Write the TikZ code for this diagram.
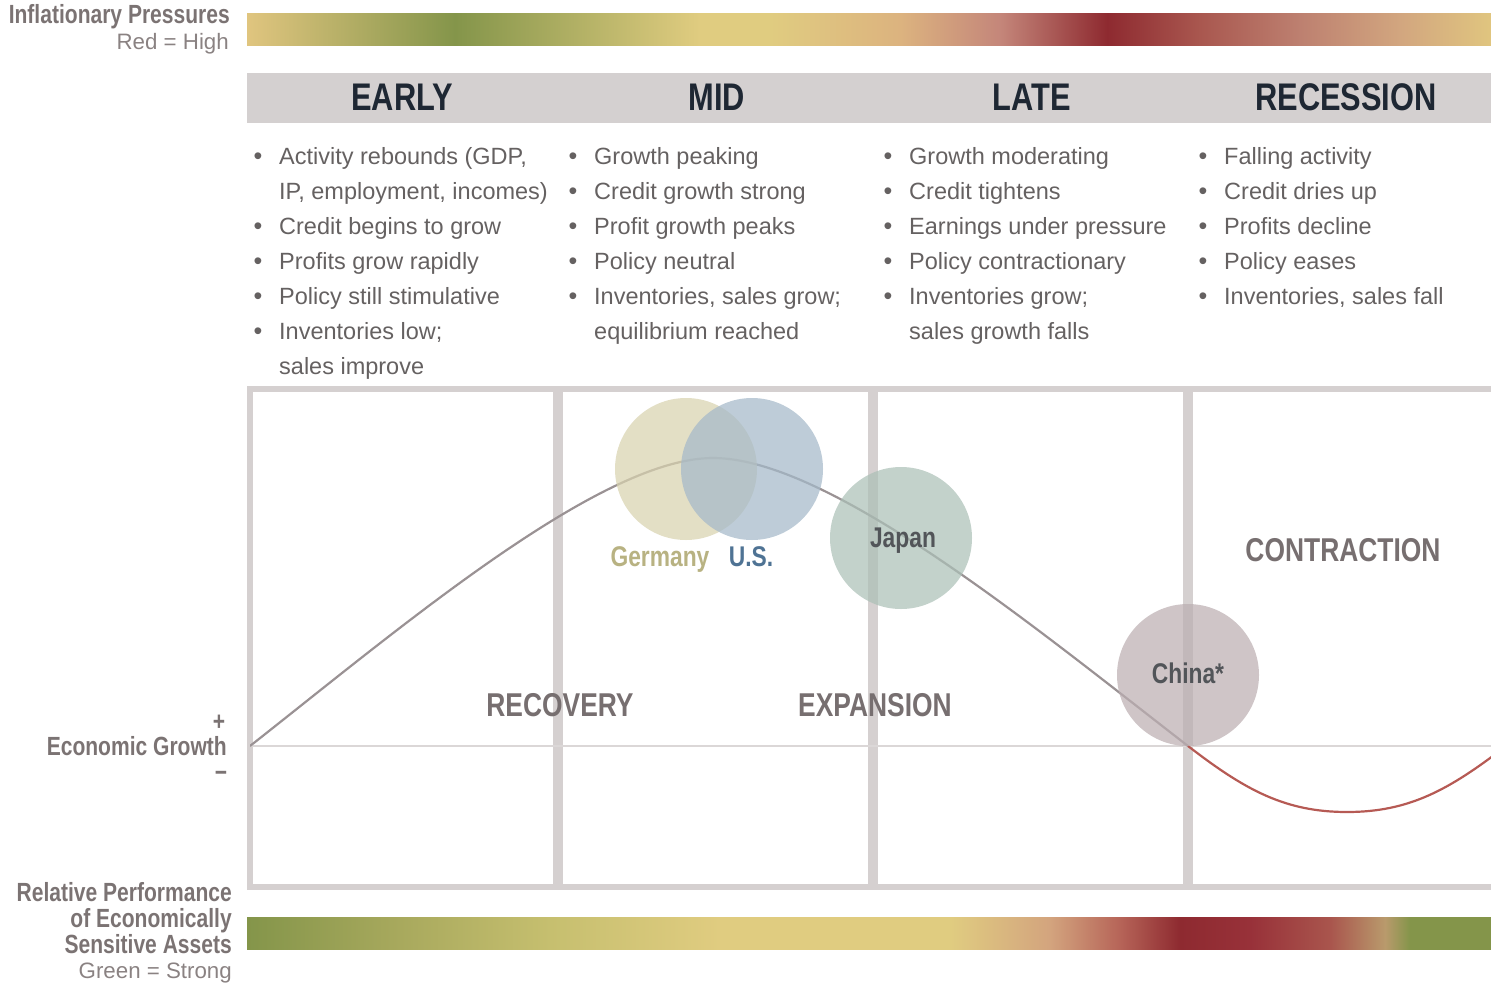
\documentclass[tikz,border=0pt]{standalone}
\usepackage{fontspec}
\setmainfont{Liberation Sans}
\newfontfamily\condsf[FakeStretch=0.8]{Liberation Sans}

% palette
\definecolor{bodygray}{HTML}{656161}
\definecolor{headink}{HTML}{1E2733}
\definecolor{hdrfill}{HTML}{D4D0D0}
\definecolor{framegray}{HTML}{D5D0D0}
\definecolor{zerogray}{HTML}{DBD7D7}
\definecolor{curvegray}{HTML}{9A9294}
\definecolor{curvered}{HTML}{B65A54}
\definecolor{phasegray}{HTML}{776F70}
\definecolor{sidegray}{HTML}{7B7373}
\definecolor{sidelight}{HTML}{8A8282}
\definecolor{germanyink}{HTML}{B8B282}
\definecolor{usink}{HTML}{4F7394}
\definecolor{bubbleink}{HTML}{525559}
\definecolor{germanyfill}{HTML}{D8D2AF}
\definecolor{usfill}{HTML}{A5B9C9}
\definecolor{japanfill}{HTML}{ACC0B7}
\definecolor{chinafill}{HTML}{BCAFB2}

% gradient colours
\definecolor{gTan}{HTML}{E0C57F}
\definecolor{gGreen}{HTML}{84954A}
\definecolor{gOlive}{HTML}{A8A95D}
\definecolor{gYellowGreen}{HTML}{C6BF6F}
\definecolor{gYellow}{HTML}{E0CC80}
\definecolor{gSand}{HTML}{DCB37F}
\definecolor{gRose}{HTML}{C4867A}
\definecolor{gRed}{HTML}{8E2A30}
\definecolor{gBrick}{HTML}{A9574F}
\definecolor{gSalmon}{HTML}{BD8070}
\definecolor{gPeach}{HTML}{D2A67F}
\definecolor{gRoseTan}{HTML}{D3A47E}
\definecolor{gRust}{HTML}{B66458}
\definecolor{gWine}{HTML}{983139}
\definecolor{gBrown}{HTML}{A9554D}
\definecolor{gKhaki}{HTML}{B99A6C}

% inflation bar: tan - green - yellow - red - tan
\pgfdeclarehorizontalshading{inflationbar}{100bp}{
  color(0bp)=(gTan); color(25bp)=(gTan); color(33.36bp)=(gGreen);
  color(43.21bp)=(gYellow); color(46.02bp)=(gYellow); color(51.25bp)=(gSand);
  color(55.27bp)=(gRose); color(59.57bp)=(gRed); color(63.30bp)=(gBrick);
  color(67.32bp)=(gSalmon); color(71.34bp)=(gPeach); color(75bp)=(gTan);
  color(100bp)=(gTan)}

% asset performance bar: green - yellow - red - green
\pgfdeclarehorizontalshading{assetbar}{100bp}{
  color(0bp)=(gGreen); color(25bp)=(gGreen); color(31.15bp)=(gOlive);
  color(37.18bp)=(gYellowGreen); color(44.01bp)=(gYellow); color(53.26bp)=(gYellow);
  color(57.27bp)=(gRoseTan); color(60.09bp)=(gRust); color(62.50bp)=(gRed);
  color(65.31bp)=(gWine); color(68.53bp)=(gBrown); color(70.74bp)=(gKhaki);
  color(71.74bp)=(gGreen); color(75bp)=(gGreen); color(100bp)=(gGreen)}

\tikzset{
  bodytext/.style={anchor=base west, inner sep=0pt, text=bodygray,
    font=\fontsize{23.5}{28}\selectfont},
  bulletdot/.style={anchor=base, inner sep=0pt, text=bodygray,
    font=\fontsize{25}{28}\selectfont},
  phasehead/.style={anchor=base, inner sep=0pt, text=headink,
    font=\condsf\bfseries\fontsize{38.5}{40}\selectfont},
  phaselabel/.style={anchor=base, inner sep=0pt, text=phasegray,
    font=\condsf\bfseries\fontsize{33}{36}\selectfont},
  sidebold/.style={anchor=base east, inner sep=0pt, text=sidegray,
    font=\condsf\bfseries\fontsize{26.3}{28}\selectfont},
  sidereg/.style={anchor=base east, inner sep=0pt, text=sidelight,
    font=\fontsize{22.3}{26}\selectfont},
  bubble/.style={circle, minimum size=142pt, inner sep=0pt, fill opacity=0.72},
  bubbletext/.style={anchor=base, inner sep=0pt,
    font=\condsf\bfseries\fontsize{28.5}{30}\selectfont},
  framerule/.style={draw=framegray, line width=6pt},
  divider/.style={draw=framegray, line width=10pt},
}

% one bulleted column: #1 name prefix, #2 x of bullets, #3 list of flag/text
\newcommand\phasecolumn[3]{%
  \foreach [count=\i] \mk/\txt in {#3} {
    \node[bodytext] (#1-\i) at ({#2+21}, {164+35*(\i-1)}) {\txt};
    \ifnum\mk=1
      \node[bulletdot] (#1-dot-\i) at (#2, {164+35*(\i-1)}) {•};
    \fi
  }%
}

\begin{document}
\begin{tikzpicture}[x=1pt, y=-1pt]
\useasboundingbox (0,0) rectangle (1491,983);

% --- inflation legend and bar
\node[sidebold] (infl-title) at (230,23) {Inflationary Pressures};
\node[sidereg] (infl-key) at (229,49) {Red = High};
\shade[shading=inflationbar] (247,13) rectangle (1491,45);

% --- phase header band
\fill[hdrfill] (247,73) rectangle (1491,123);
\node[phasehead] (h-early) at (402,110) {EARLY};
\node[phasehead] (h-mid) at (717,110) {MID};
\node[phasehead] (h-late) at (1032,110) {LATE};
\node[phasehead] (h-rec) at (1346,110) {RECESSION};

% --- phase descriptions
\phasecolumn{early}{258}{1/{Activity rebounds (GDP,}, 0/{IP, employment, incomes)},
  1/{Credit begins to grow}, 1/{Profits grow rapidly}, 1/{Policy still stimulative},
  1/{Inventories low;}, 0/{sales improve}}
\phasecolumn{mid}{573}{1/{Growth peaking}, 1/{Credit growth strong},
  1/{Profit growth peaks}, 1/{Policy neutral}, 1/{Inventories, sales grow;},
  0/{equilibrium reached}}
\phasecolumn{late}{888}{1/{Growth moderating}, 1/{Credit tightens},
  1/{Earnings under pressure}, 1/{Policy contractionary}, 1/{Inventories grow;},
  0/{sales growth falls}}
\phasecolumn{rec}{1203}{1/{Falling activity}, 1/{Credit dries up},
  1/{Profits decline}, 1/{Policy eases}, 1/{Inventories, sales fall}}

% --- chart frame (open on the right) and phase dividers
\draw[framerule, line join=miter] (1491,389) -- (250,389) -- (250,887) -- (1491,887);
\draw[divider] (558,389) -- (558,887);
\draw[divider] (873,389) -- (873,887);
\draw[divider] (1188,389) -- (1188,887);

% zero-growth axis
\draw[zerogray, line width=2.5pt] (250,746) -- (1491,746);

% business-cycle curve
\begin{scope}
  \clip (250,380) rectangle (1491,900);
  \draw[curvegray, line width=2.2pt]
    (250,746) .. controls (400,628) and (600,458) .. (713,458)
              .. controls (830,458) and (1038,630) .. (1188,746);
  \draw[curvered, line width=2.2pt]
    (1188,746) .. controls (1245,790) and (1285,812) .. (1347,812)
               .. controls (1409,812) and (1449,790) .. (1506,746);
\end{scope}

% --- country bubbles
\node[bubble, fill=germanyfill] (germany) at (686,469) {};
\node[bubble, fill=usfill] (us) at (752,469) {};
\node[bubble, fill=japanfill] (japan) at (901,538) {};
\node[bubble, fill=chinafill] (china) at (1188,675) {};

\node[bubbletext, text=germanyink] (germany-lbl) at (660,566) {Germany};
\node[bubbletext, text=usink] (us-lbl) at (751,566) {U.S.};
\node[bubbletext, text=bubbleink] (japan-lbl) at (903,547) {Japan};
\node[bubbletext, text=bubbleink] (china-lbl) at (1188,683) {China*};

% --- phase names inside the chart
\node[phaselabel] (recovery) at (560,716) {RECOVERY};
\node[phaselabel] (expansion) at (875,716) {EXPANSION};
\node[phaselabel] (contraction) at (1343,561) {CONTRACTION};

% --- growth axis legend
\node[sidebold, anchor=center] (plus) at (219,723) {+};
\node[sidebold] (growth) at (227,755) {Economic Growth};
\node[sidebold, anchor=center] (minus) at (221,776) {−};

% --- asset performance legend and bar
\node[sidebold] (perf-1) at (232,901) {Relative Performance};
\node[sidebold] (perf-2) at (232,927) {of Economically};
\node[sidebold] (perf-3) at (232,953) {Sensitive Assets};
\node[sidereg] (perf-key) at (232,978) {Green = Strong};
\shade[shading=assetbar] (247,917) rectangle (1491,949);
\end{tikzpicture}
\end{document}
